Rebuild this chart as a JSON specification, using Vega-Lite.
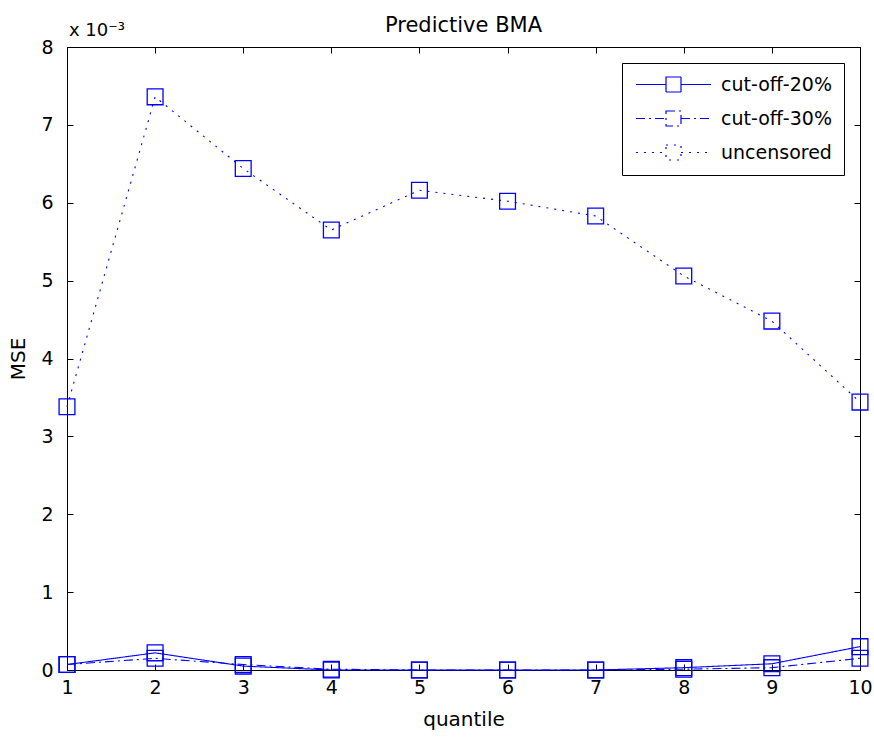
{
  "$schema": "https://vega.github.io/schema/vega-lite/v6.json",
  "width": 793,
  "height": 623,
  "autosize": "none",
  "padding": {"left": 67, "top": 47, "right": 14, "bottom": 72},
  "background": "white",
  "config": {
    "font": "DejaVu Sans",
    "view": {"stroke": "black", "strokeWidth": 1},
    "axis": {"grid": false, "domainColor": "black", "tickColor": "black", "labelColor": "black", "titleColor": "black", "labelFontSize": 19, "titleFontSize": 20, "titleFontWeight": "normal", "tickSize": -6, "domain": true, "labelFlush": false, "labelOverlap": false}
  },
  "title": {"text": "Predictive BMA", "fontSize": 21, "fontWeight": "normal", "color": "black", "offset": 7, "dy": 21},
  "datasets": {
    "mse": [
      {"q": 1, "series": "cut-off-20%", "mse": 0.00007},
      {"q": 2, "series": "cut-off-20%", "mse": 0.00022},
      {"q": 3, "series": "cut-off-20%", "mse": 0.00005},
      {"q": 4, "series": "cut-off-20%", "mse": 0.0},
      {"q": 5, "series": "cut-off-20%", "mse": 0.0},
      {"q": 6, "series": "cut-off-20%", "mse": 0.0},
      {"q": 7, "series": "cut-off-20%", "mse": 0.0},
      {"q": 8, "series": "cut-off-20%", "mse": 0.00003},
      {"q": 9, "series": "cut-off-20%", "mse": 0.00008},
      {"q": 10, "series": "cut-off-20%", "mse": 0.0003},
      {"q": 1, "series": "cut-off-30%", "mse": 0.00007},
      {"q": 2, "series": "cut-off-30%", "mse": 0.00015},
      {"q": 3, "series": "cut-off-30%", "mse": 0.00007},
      {"q": 4, "series": "cut-off-30%", "mse": 0.00001},
      {"q": 5, "series": "cut-off-30%", "mse": 0.0},
      {"q": 6, "series": "cut-off-30%", "mse": 0.0},
      {"q": 7, "series": "cut-off-30%", "mse": 0.0},
      {"q": 8, "series": "cut-off-30%", "mse": 0.00001},
      {"q": 9, "series": "cut-off-30%", "mse": 0.00003},
      {"q": 10, "series": "cut-off-30%", "mse": 0.00015},
      {"q": 1, "series": "uncensored", "mse": 0.00338},
      {"q": 2, "series": "uncensored", "mse": 0.00736},
      {"q": 3, "series": "uncensored", "mse": 0.00644},
      {"q": 4, "series": "uncensored", "mse": 0.00565},
      {"q": 5, "series": "uncensored", "mse": 0.00616},
      {"q": 6, "series": "uncensored", "mse": 0.00602},
      {"q": 7, "series": "uncensored", "mse": 0.00583},
      {"q": 8, "series": "uncensored", "mse": 0.00506},
      {"q": 9, "series": "uncensored", "mse": 0.00448},
      {"q": 10, "series": "uncensored", "mse": 0.00344}
    ],
    "note": [{"q": 1, "mse": 0.008, "label": "x 10⁻³"}]
  },
  "layer": [
    {
      "data": {"name": "mse"},
      "mark": {"type": "line", "color": "#0000FF", "strokeWidth": 1.1},
      "encoding": {
        "x": {"field": "q", "type": "quantitative", "scale": {"domain": [1, 10], "nice": false}, "axis": {"orient": "bottom", "title": "quantile", "values": [1,2,3,4,5,6,7,8,9,10], "labelPadding": 14, "titlePadding": 12}},
        "y": {"field": "mse", "type": "quantitative", "scale": {"domain": [0, 0.008], "nice": false}, "axis": {"orient": "left", "title": "MSE", "values": [0,0.001,0.002,0.003,0.004,0.005,0.006,0.007,0.008], "labelExpr": "format(datum.value*1000, 'd')", "labelPadding": 20, "titlePadding": 12}},
        "detail": {"field": "series"},
        "strokeDash": {
          "field": "series", "type": "nominal",
          "scale": {"domain": ["cut-off-20%", "cut-off-30%", "uncensored"], "range": [[1, 0], [9, 4, 2, 4], [2, 6]]},
          "legend": {
            "title": null, "orient": "top-right", "offset": 16,
            "strokeColor": "black", "fillColor": "white", "padding": 12,
            "labelFontSize": 19, "labelColor": "black", "rowPadding": 13,
            "symbolType": "M-1,0H3M5,0H9M3,-1H5V1H3Z",
            "symbolSize": 225, "symbolStrokeColor": "#0000FF", "symbolFillColor": "transparent", "symbolStrokeWidth": 1.2, "labelOffset": 68
          }
        }
      }
    },
    {
      "data": {"name": "mse"},
      "mark": {"type": "point", "shape": "square", "filled": false, "color": "#0000FF", "size": 250, "strokeWidth": 1.3, "opacity": 1},
      "encoding": {
        "x": {"field": "q", "type": "quantitative", "axis": {"orient": "top", "labels": false, "title": null, "values": [1,2,3,4,5,6,7,8,9,10]}},
        "y": {"field": "mse", "type": "quantitative", "axis": {"orient": "right", "labels": false, "title": null, "values": [0,0.001,0.002,0.003,0.004,0.005,0.006,0.007,0.008]}}
      }
    },
    {
      "data": {"name": "note"},
      "mark": {"type": "text", "align": "left", "baseline": "bottom", "fontSize": 18, "dy": -7, "dx": 2, "color": "black"},
      "encoding": {
        "x": {"field": "q", "type": "quantitative", "axis": null},
        "y": {"field": "mse", "type": "quantitative", "axis": null},
        "text": {"field": "label"}
      }
    }
  ],
  "resolve": {"axis": {"x": "independent", "y": "independent"}}
}
